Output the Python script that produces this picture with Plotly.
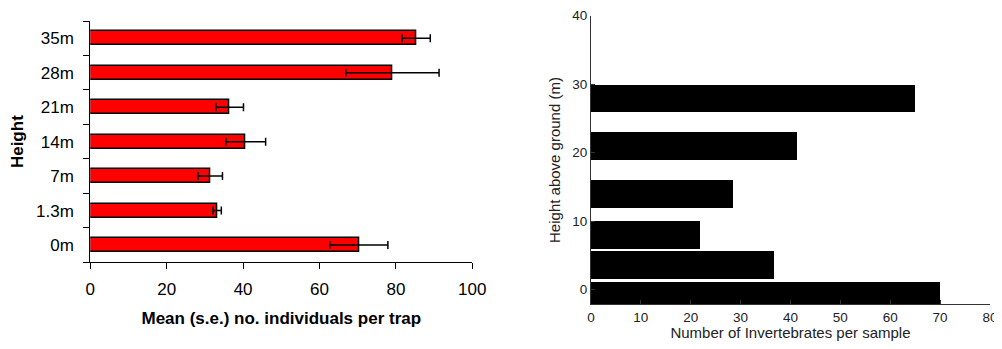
import plotly.graph_objects as go

# ---- Left chart data ----
trap_heights = ["0m", "1.3m", "7m", "14m", "21m", "28m", "35m"]
trap_means = [70.3, 33.2, 31.4, 40.7, 36.5, 79.1, 85.3]
trap_se = [7.6, 1.1, 3.2, 5.2, 3.6, 12.2, 3.7]
left_xticks = [0, 20, 40, 60, 80, 100]

# ---- Right chart data ----
sample_heights_m = [-0.8, 3.65, 8.05, 14.0, 21.0, 28.0]
invertebrates = [70.0, 36.6, 21.8, 28.5, 41.4, 64.9]
right_xticks = [0, 10, 20, 30, 40, 50, 60, 70, 80]
right_yticks = [0, 10, 20, 30, 40]

FONT = "Arial, Liberation Sans, sans-serif"
OFF = 8  # default page body margin
W, H = 1002 - OFF, 349 - 2 * OFF

fig = go.Figure()

fig.add_trace(go.Bar(
    x=trap_means, y=trap_heights, orientation="h",
    marker=dict(color="#FF0000", line=dict(color="black", width=1.5)),
    width=0.41,
    error_x=dict(type="data", array=trap_se, visible=True, color="black",
                 thickness=1.5, width=4),
    xaxis="x", yaxis="y", showlegend=False,
))

fig.add_trace(go.Bar(
    x=invertebrates, y=sample_heights_m, orientation="h",
    marker=dict(color="black", line=dict(width=0)),
    width=4.0,
    xaxis="x2", yaxis="y2", showlegend=False,
))

def px_x(p):
    return (p - OFF) / W

def px_y(p):
    return 1 - (p - OFF) / H

fig.update_layout(
    width=W, height=H,
    margin=dict(l=0, r=0, t=0, b=0),
    paper_bgcolor="white", plot_bgcolor="white",
    font=dict(family=FONT, color="black"),
    bargap=0,
    xaxis=dict(
        domain=[px_x(90.3), px_x(472.3)], anchor="y", automargin=False,
        range=[0, 100], tickvals=left_xticks,
        showline=True, linecolor="black", linewidth=1,
        ticks="outside", ticklen=6, tickcolor="black",
        tickfont=dict(size=17, color="black"),
        ticklabelstandoff=5,
        showgrid=False, zeroline=False,
        title=dict(text="<b>Mean (s.e.) no. individuals per trap</b>",
                   font=dict(size=17, color="black"), standoff=14),
    ),
    yaxis=dict(
        domain=[px_y(262.3), px_y(21)], anchor="x", automargin=False,
        type="category", categoryorder="array", categoryarray=trap_heights,
        range=[-0.5, 6.5],
        showline=True, linecolor="black", linewidth=1,
        ticks="outside", ticklen=6, tickcolor="black", tickson="boundaries",
        tickfont=dict(size=17, color="black"),
        ticklabelstandoff=12,
        showgrid=False, zeroline=False,
        title=dict(text="<b>Height</b>", font=dict(size=17, color="black"),
                   standoff=9),
    ),
    xaxis2=dict(
        domain=[px_x(591), px_x(990)], anchor="y2", automargin=False,
        range=[0, 80], tickvals=right_xticks,
        showline=True, linecolor="#333", linewidth=1,
        ticks="inside", ticklen=4, tickcolor="#333",
        tickfont=dict(size=13.5, color="#222"),
        ticklabeloverflow="allow",
        showgrid=False, zeroline=False,
        title=dict(text="Number of Invertebrates per sample",
                   font=dict(size=15, color="#222"), standoff=8),
    ),
    yaxis2=dict(
        domain=[px_y(304.3), px_y(15.7)], anchor="x2", automargin=False,
        range=[-2.13, 40], tickvals=right_yticks,
        showline=True, linecolor="#333", linewidth=1,
        ticks="inside", ticklen=4, tickcolor="#333",
        tickfont=dict(size=13.5, color="#222"),
        showgrid=False, zeroline=False,
        title=dict(text="Height above ground (m)",
                   font=dict(size=15, color="#222"), standoff=8),
    ),
)

fig.write_html("out.html")
